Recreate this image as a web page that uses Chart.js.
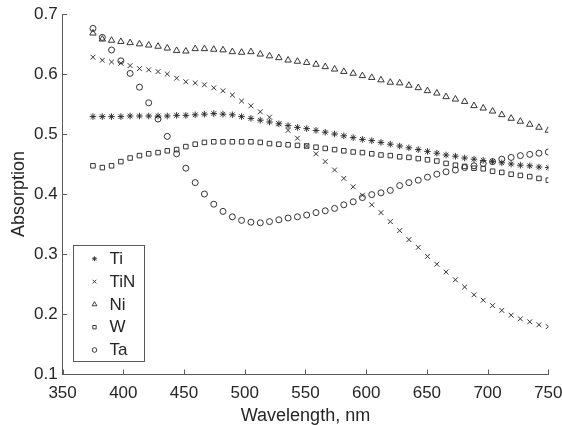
<!DOCTYPE html>
<html>
<head>
<meta charset="utf-8">
<script src="https://cdn.jsdelivr.net/npm/chart.js@4/dist/chart.umd.min.js"></script>
<style>
  html, body { margin: 0; padding: 0; background: #ffffff; }
  #wrap { width: 562px; height: 425px; position: relative; }
</style>
</head>
<body>
<div id="wrap"><canvas id="c" width="562" height="425"></canvas></div>
<script>
const wavelengths = [375.0,382.7,390.3,398.0,405.6,413.3,420.9,428.6,436.2,443.9,451.5,459.2,466.8,474.5,482.1,489.8,497.4,505.1,512.8,520.4,528.1,535.7,543.4,551.0,558.7,566.3,574.0,581.6,589.3,596.9,604.6,612.2,619.9,627.6,635.2,642.9,650.5,658.2,665.8,673.5,681.1,688.8,696.4,704.1,711.7,719.4,727.0,734.7,742.3,750.0];

const seriesNames = ["Ti", "TiN", "Ni", "W", "Ta"];

const Ti = [0.529,0.529,0.529,0.529,0.530,0.530,0.530,0.530,0.530,0.531,0.531,0.532,0.533,0.534,0.533,0.532,0.529,0.526,0.523,0.520,0.517,0.514,0.511,0.509,0.506,0.503,0.500,0.497,0.494,0.491,0.489,0.486,0.483,0.480,0.477,0.474,0.471,0.468,0.465,0.463,0.460,0.458,0.456,0.454,0.452,0.450,0.448,0.447,0.445,0.444];

const TiN = [0.628,0.623,0.620,0.618,0.614,0.609,0.607,0.604,0.600,0.593,0.587,0.585,0.582,0.577,0.572,0.565,0.555,0.547,0.537,0.528,0.517,0.506,0.493,0.480,0.467,0.454,0.440,0.426,0.412,0.398,0.382,0.369,0.354,0.339,0.324,0.311,0.296,0.283,0.270,0.257,0.245,0.232,0.223,0.214,0.206,0.198,0.192,0.187,0.182,0.179];

const Ni = [0.668,0.658,0.656,0.654,0.652,0.650,0.648,0.646,0.643,0.639,0.638,0.642,0.642,0.641,0.640,0.637,0.636,0.637,0.633,0.630,0.627,0.623,0.621,0.619,0.616,0.612,0.608,0.604,0.601,0.597,0.594,0.590,0.586,0.585,0.581,0.577,0.572,0.568,0.562,0.558,0.554,0.547,0.543,0.538,0.532,0.526,0.521,0.516,0.511,0.506];

const W = [0.447,0.444,0.447,0.454,0.460,0.464,0.467,0.469,0.472,0.474,0.479,0.483,0.486,0.487,0.487,0.487,0.487,0.487,0.486,0.484,0.483,0.482,0.481,0.480,0.478,0.476,0.474,0.472,0.470,0.469,0.467,0.465,0.464,0.462,0.461,0.459,0.457,0.455,0.451,0.448,0.446,0.443,0.442,0.438,0.436,0.433,0.431,0.429,0.426,0.423];

const Ta = [0.676,0.661,0.640,0.622,0.601,0.578,0.552,0.525,0.496,0.467,0.443,0.419,0.400,0.383,0.371,0.362,0.356,0.353,0.352,0.354,0.357,0.360,0.362,0.365,0.369,0.372,0.376,0.382,0.387,0.394,0.399,0.402,0.406,0.414,0.419,0.423,0.428,0.433,0.437,0.440,0.444,0.447,0.451,0.454,0.458,0.461,0.464,0.466,0.468,0.470];

const xTicks = [350,400,450,500,550,600,650,700,750];
const yTicks = [0.1,0.2,0.3,0.4,0.5,0.6,0.7];

const seriesValues = [Ti, TiN, Ni, W, Ta];
const markerStyles = ["star", "crossRot", "triangle", "rect", "circle"];
const markerRadius = [3.3, 3.4, 3.7, 3.2, 3.0];
const legendRadius = [2.4, 2.6, 2.8, 2.4, 2.3];
const markColor = "#2a2a2a";
const axisColor = "#5a5a5a";
const textColor = "#262626";
const fontFam = "'Liberation Sans', Arial, sans-serif";

const datasets = seriesNames.map((name, i) => ({
  label: name,
  data: wavelengths.map((w, j) => ({ x: w, y: seriesValues[i][j] })),
  showLine: false,
  pointStyle: markerStyles[i],
  pointRadius: markerRadius[i],
  pointHoverRadius: markerRadius[i],
  pointBorderColor: markColor,
  pointBackgroundColor: "rgba(0,0,0,0)",
  pointBorderWidth: 0.95,
  borderColor: markColor,
  backgroundColor: "rgba(0,0,0,0)"
}));

const innerTicks = {
  id: "innerTicks",
  afterDraw(chart) {
    const ctx = chart.ctx;
    const xs = chart.scales.x, ys = chart.scales.y;
    const a = chart.chartArea;
    ctx.save();
    ctx.strokeStyle = axisColor;
    ctx.lineWidth = 1;
    ctx.beginPath();
    xTicks.forEach(v => {
      const px = Math.round(xs.getPixelForValue(v)) + 0.5;
      ctx.moveTo(px, a.bottom);
      ctx.lineTo(px, a.bottom - 4.5);
    });
    yTicks.forEach(v => {
      const py = Math.round(ys.getPixelForValue(v)) + 0.5;
      ctx.moveTo(a.left, py);
      ctx.lineTo(a.left + 4.5, py);
    });
    ctx.stroke();

    // legend box
    const bx = 73.5, by = 245.5, bw = 71, bh = 116;
    ctx.fillStyle = "#ffffff";
    ctx.fillRect(bx, by, bw, bh);
    ctx.strokeStyle = axisColor;
    ctx.strokeRect(bx, by, bw, bh);
    ctx.font = "17px " + fontFam;
    ctx.textBaseline = "middle";
    ctx.textAlign = "left";
    chart.data.datasets.forEach((ds, i) => {
      const cy = 258.8 + i * 22.8;
      ctx.strokeStyle = markColor;
      ctx.fillStyle = "rgba(0,0,0,0)";
      ctx.lineWidth = 0.9;
      Chart.helpers.drawPoint(ctx, { pointStyle: ds.pointStyle, radius: legendRadius[i], rotation: 0, borderWidth: 0.9 }, 94.5, cy);
      ctx.fillStyle = textColor;
      ctx.fillText(ds.label, 109.5, cy + 0.5);
    });
    ctx.restore();
  }
};

new Chart(document.getElementById("c"), {
  type: "scatter",
  data: { datasets },
  options: {
    responsive: false,
    animation: false,
    devicePixelRatio: 1,
    layout: { padding: { left: 0, right: 13.7, top: 14, bottom: 0 } },
    plugins: { legend: { display: false }, tooltip: { enabled: false } },
    scales: {
      x: {
        type: "linear",
        min: 350, max: 750,
        afterBuildTicks: s => { s.ticks = xTicks.map(v => ({ value: v })); },
        afterFit: s => { s.height = 51; s.paddingLeft = 0; s.paddingRight = 0; },
        grid: { display: false, drawTicks: false },
        border: { display: true, color: axisColor, width: 1 },
        ticks: {
          padding: 9,
          color: textColor,
          font: { family: fontFam, size: 17 },
          maxRotation: 0,
          autoSkip: false,
          callback: v => String(v)
        },
        title: {
          display: true,
          text: "Wavelength, nm",
          color: textColor,
          font: { family: fontFam, size: 18, lineHeight: 1 },
          padding: { top: 0, bottom: 0 }
        }
      },
      y: {
        type: "linear",
        min: 0.1, max: 0.7,
        afterBuildTicks: s => { s.ticks = yTicks.map(v => ({ value: v })); },
        afterFit: s => { s.width = 62.6; s.paddingTop = 0; s.paddingBottom = 0; },
        grid: { display: false, drawTicks: false },
        border: { display: true, color: axisColor, width: 1 },
        ticks: {
          padding: 5,
          color: textColor,
          font: { family: fontFam, size: 17 },
          autoSkip: false,
          callback: v => Number(v).toFixed(1)
        },
        title: {
          display: true,
          text: "Absorption",
          color: textColor,
          font: { family: fontFam, size: 18, lineHeight: 1 },
          padding: { top: 10, bottom: 0 }
        }
      }
    }
  },
  plugins: [innerTicks]
});
</script>
</body>
</html>
